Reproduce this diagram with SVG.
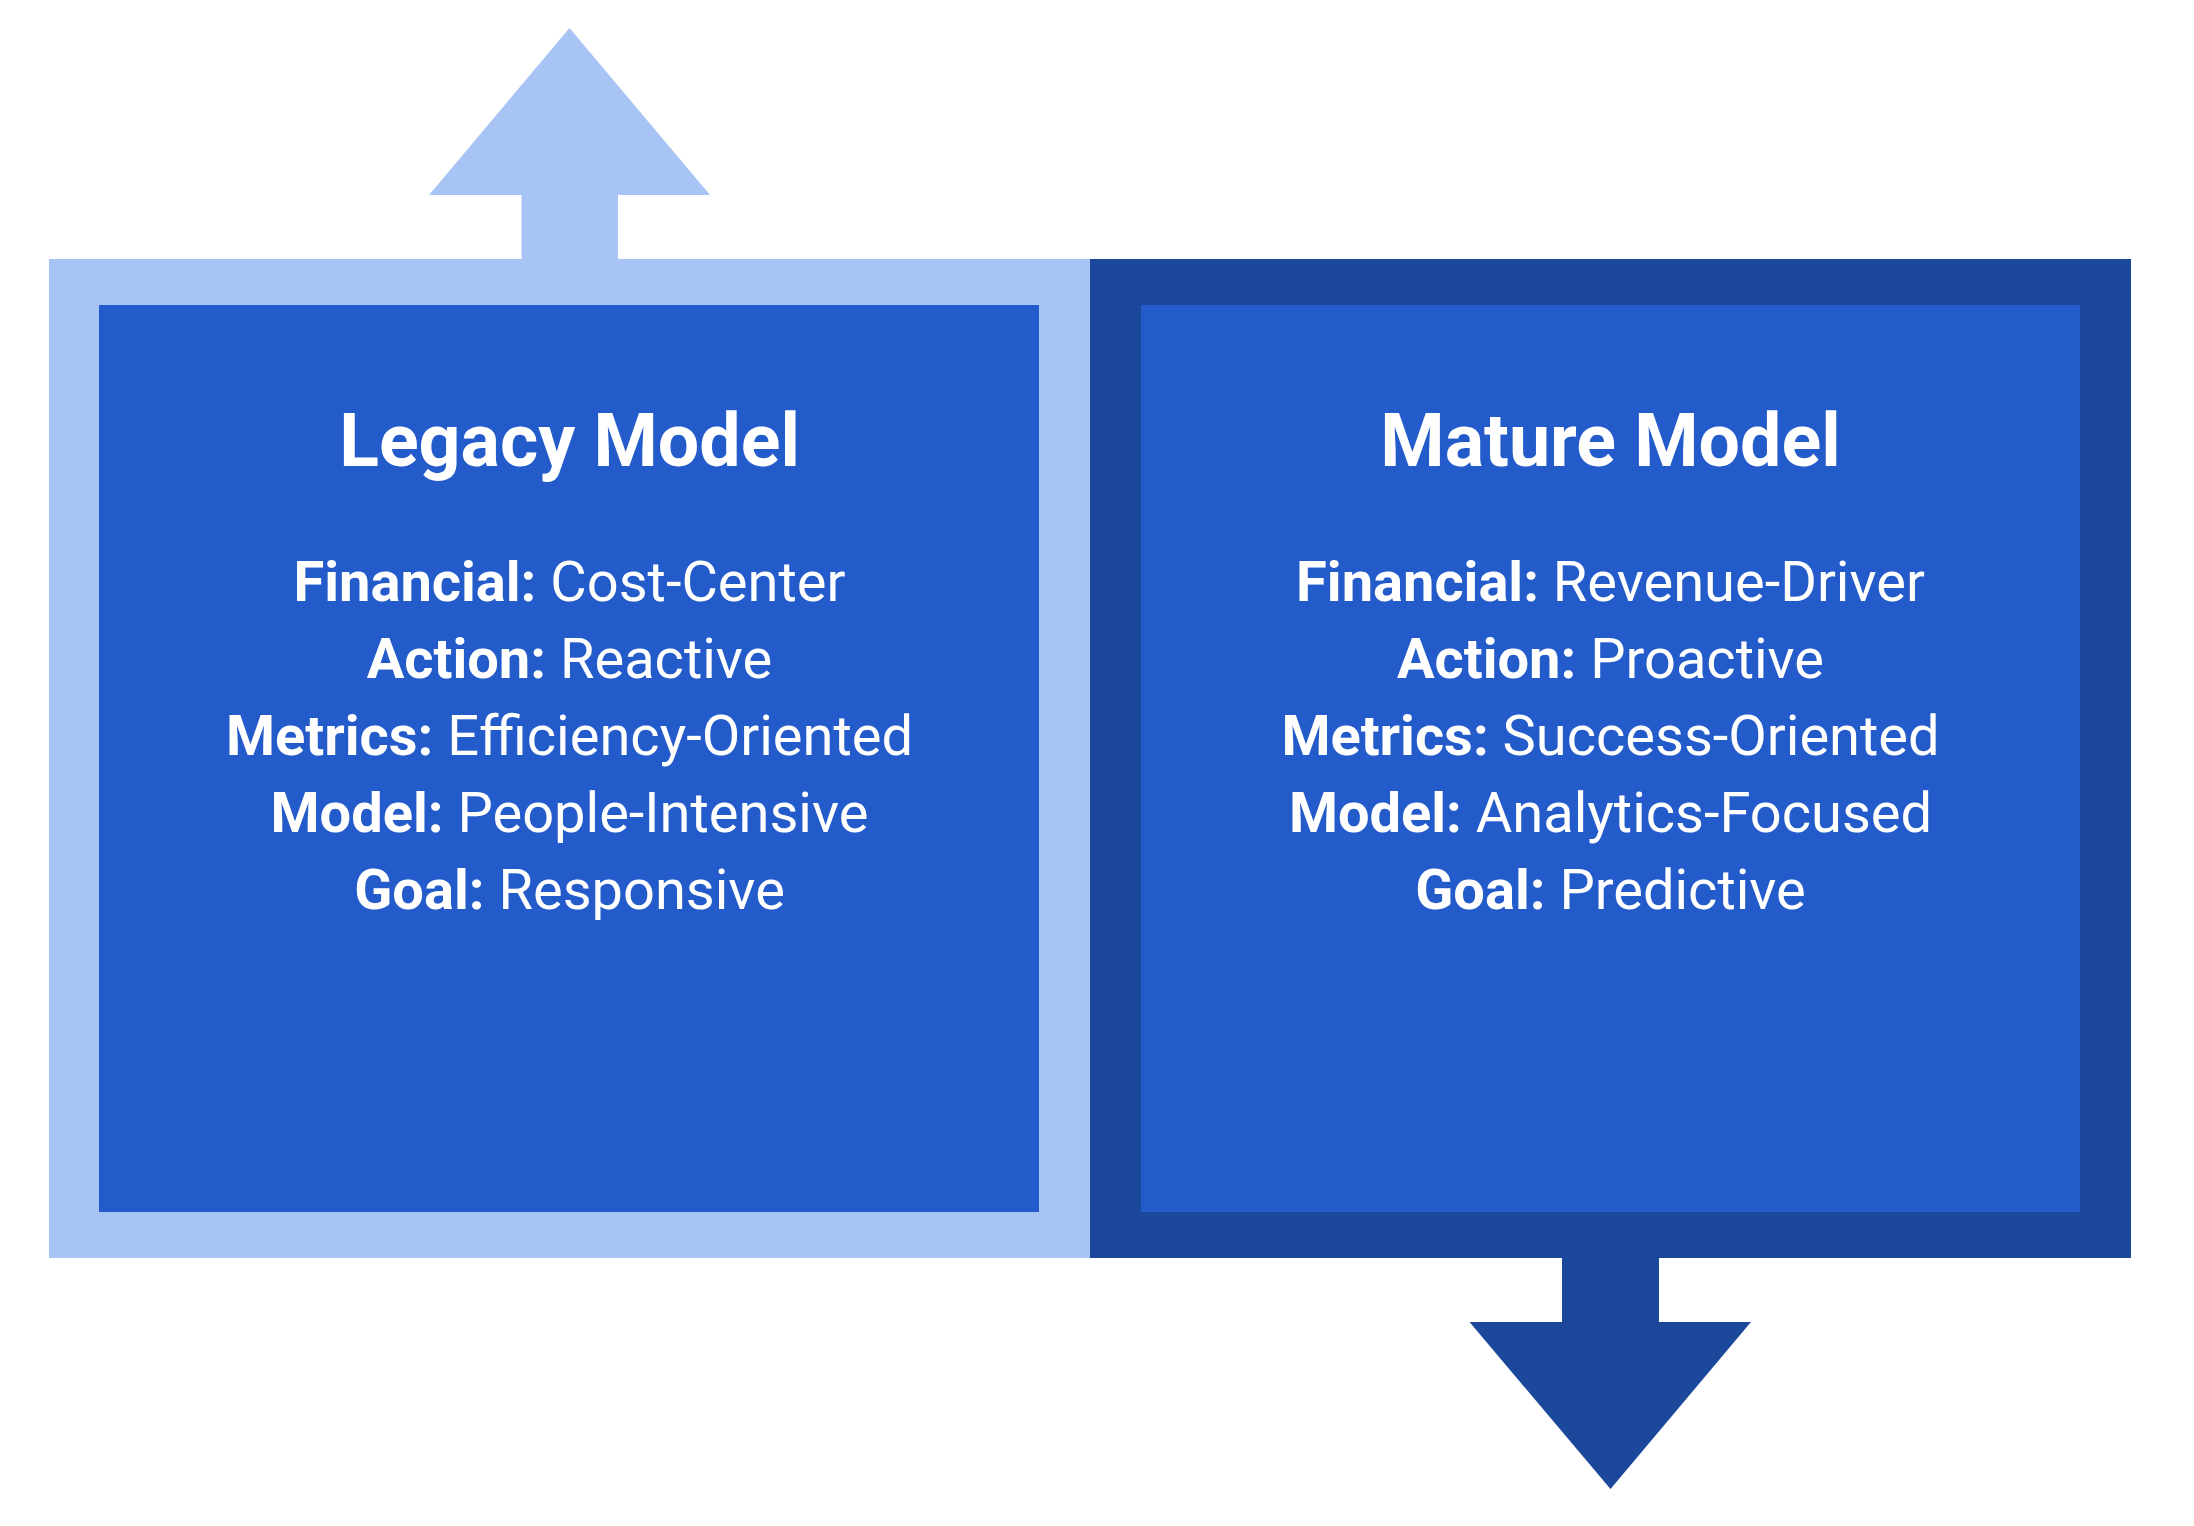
<svg xmlns="http://www.w3.org/2000/svg" width="2194" height="1526" viewBox="0 0 2194 1526">
  <style>
    .light { fill: #A8C4F4; }
    .dark { fill: #1C489C; }
    .inner { fill: #235BCB; }
    .title { font-family: Roboto, "Liberation Sans", sans-serif; font-weight: 700; font-size: 73.5px; fill: #FFFFFF; text-anchor: middle; }
    .item { font-family: Roboto, "Liberation Sans", sans-serif; font-weight: 400; font-size: 56px; fill: #FFFFFF; text-anchor: middle; }
    .b { font-weight: 700; }
  </style>
  <rect x="0" y="0" width="2194" height="1526" fill="#FFFFFF"/>
  <g id="connectors">
    <polygon id="arrow-up" class="light" points="521.5,259 521.5,195 429,195 569.5,28 710,195 618,195 618,259"/>
    <polygon id="arrow-down" class="dark" points="1562,1258 1562,1322 1469.5,1322 1610.5,1489 1751,1322 1659,1322 1659,1258"/>
  </g>
  <g id="legacy">
    <rect class="light" x="49" y="259" width="1041" height="999"/>
    <rect class="inner" x="99" y="305" width="940" height="907"/>
    <text class="title" x="569.5" y="466">Legacy Model</text>
    <text class="item" x="569.5" y="601"><tspan class="b">Financial:</tspan> Cost-Center</text>
    <text class="item" x="569.5" y="678"><tspan class="b">Action:</tspan> Reactive</text>
    <text class="item" x="569.5" y="755"><tspan class="b">Metrics:</tspan> Efficiency-Oriented</text>
    <text class="item" x="569.5" y="832"><tspan class="b">Model:</tspan> People-Intensive</text>
    <text class="item" x="569.5" y="909"><tspan class="b">Goal:</tspan> Responsive</text>
  </g>
  <g id="mature">
    <rect class="dark" x="1090" y="259" width="1041" height="999"/>
    <rect class="inner" x="1141" y="305" width="939" height="907"/>
    <text class="title" x="1610.5" y="466">Mature Model</text>
    <text class="item" x="1610.5" y="601"><tspan class="b">Financial:</tspan> Revenue-Driver</text>
    <text class="item" x="1610.5" y="678"><tspan class="b">Action:</tspan> Proactive</text>
    <text class="item" x="1610.5" y="755"><tspan class="b">Metrics:</tspan> Success-Oriented</text>
    <text class="item" x="1610.5" y="832"><tspan class="b">Model:</tspan> Analytics-Focused</text>
    <text class="item" x="1610.5" y="909"><tspan class="b">Goal:</tspan> Predictive</text>
  </g>
</svg>
